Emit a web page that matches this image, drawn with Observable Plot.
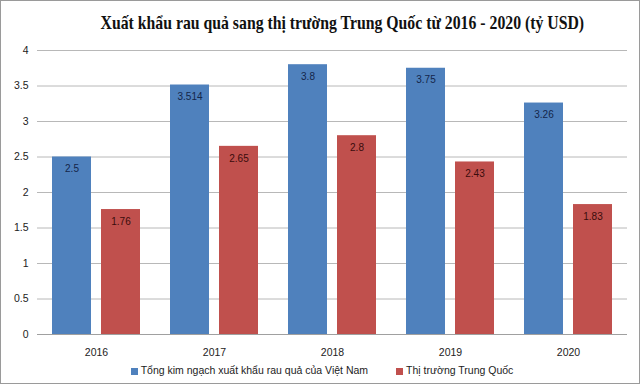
<!DOCTYPE html>
<html>
<head>
<meta charset="utf-8">
<script src="https://cdn.jsdelivr.net/npm/d3@7"></script>
<script src="https://cdn.jsdelivr.net/npm/@observablehq/plot@0.6"></script>
<style>
  html, body { margin: 0; padding: 0; background: #fff; }
  #wrap { width: 640px; height: 384px; box-sizing: border-box; border: 1px solid #9a9a9a; background: #fff; position: relative; overflow: hidden; }
  #title { height: 39px; line-height: 44px; text-align: center; white-space: nowrap; }
  #title span { display: inline-block; font-family: "Liberation Serif", serif; font-weight: bold; font-size: 19px; color: #111; transform: scaleX(0.83); transform-origin: center; margin-left: 44px; }
  #legend { display: flex; justify-content: center; align-items: center; gap: 28px; font-family: "Liberation Sans", sans-serif; font-size: 10.5px; color: #222; margin-top: 0px; padding-left: 4px; }
  #legend span.sw { display: inline-block; width: 7px; height: 7px; margin-right: 3px; vertical-align: middle; }
</style>
</head>
<body>
<div id="wrap">
  <div id="title"><span>Xuất khẩu rau quả sang thị trường Trung Quốc từ 2016 - 2020 (tỷ USD)</span></div>
  <div id="chart"></div>
  <div id="legend"></div>
</div>
<script>
const years = ["2016", "2017", "2018", "2019", "2020"];
const seriesKeys = ["total", "china"];
const seriesNames = ["Tổng kim ngạch xuất khẩu rau quả của Việt Nam", "Thị trường Trung Quốc"];
const seriesColors = ["#4f81bd", "#c0504d"];
const labelColors = ["#14264a", "#3a0c0c"];
const totalValues = [2.5, 3.514, 3.8, 3.75, 3.26];
const chinaValues = [1.76, 2.65, 2.8, 2.43, 1.83];
const yTicks = [0, 0.5, 1, 1.5, 2, 2.5, 3, 3.5, 4];

const data = years.flatMap((year, i) => [
  {year, series: "total", value: totalValues[i]},
  {year, series: "china", value: chinaValues[i]}
]);

const chart = Plot.plot({
  width: 638,
  height: 324,
  marginTop: 10,
  marginBottom: 30,
  marginLeft: 35,
  marginRight: 11,
  style: {fontFamily: "Liberation Sans, sans-serif", fontSize: "10.5px", color: "#222", background: "transparent"},
  fx: {domain: years, padding: 0, axis: "bottom", label: null, tickSize: 0, tickPadding: 14},
  x: {domain: seriesKeys, paddingInner: 10/49, paddingOuter: 15/49, axis: null},
  y: {domain: [0, 4], ticks: yTicks, tickFormat: d => String(d), tickSize: 0, tickPadding: 9, label: null},
  color: {domain: seriesKeys, range: seriesColors},
  marks: [
    Plot.ruleY(yTicks.filter(d => d > 0), {stroke: "#b8b8b8", strokeWidth: 1}),
    Plot.barY(data, {fx: "year", x: "series", y: "value", fill: "series"}),
    Plot.ruleY([0], {stroke: "#a0a0a0", strokeWidth: 1}),
    Plot.text(data, {fx: "year", x: "series", y: "value", text: d => String(d.value), dy: 12,
      fill: d => labelColors[seriesKeys.indexOf(d.series)], fontSize: 10})
  ]
});
document.getElementById("chart").appendChild(chart);

const legend = document.getElementById("legend");
seriesNames.forEach((name, i) => {
  const item = document.createElement("div");
  const sw = document.createElement("span");
  sw.className = "sw";
  sw.style.background = seriesColors[i];
  item.appendChild(sw);
  item.appendChild(document.createTextNode(name));
  legend.appendChild(item);
});
</script>
</body>
</html>
